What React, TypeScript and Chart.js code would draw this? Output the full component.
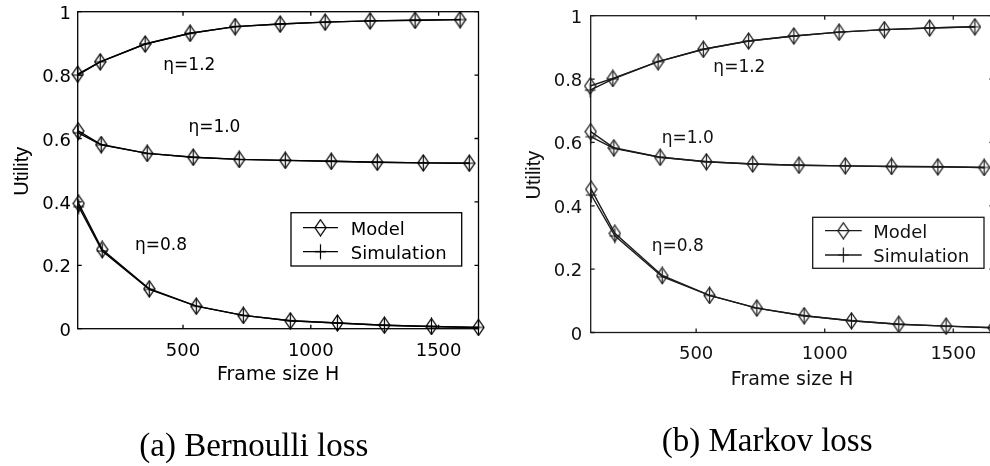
import React, { useEffect, useRef } from 'react';
import { Chart, registerables } from 'chart.js';

Chart.register(...registerables);

// ---------- data ----------
const H12 = [88, 176, 352, 528, 704, 880, 1056, 1232, 1408, 1584];
const H10 = [90, 180, 360, 540, 720, 900, 1080, 1260, 1440, 1620];
const H08 = [92, 184, 368, 552, 736, 920, 1104, 1288, 1472, 1656];

const bernModel12 = [0.803, 0.842, 0.898, 0.932, 0.953, 0.961, 0.967, 0.971, 0.973, 0.975];
const bernSim12 = [0.8, 0.842, 0.898, 0.932, 0.953, 0.961, 0.967, 0.971, 0.973, 0.975];
const bernModel10 = [0.624, 0.581, 0.553, 0.541, 0.534, 0.531, 0.528, 0.525, 0.523, 0.522];
const bernSim10 = [0.618, 0.58, 0.553, 0.541, 0.534, 0.531, 0.528, 0.525, 0.523, 0.522];
const bernModel08 = [0.395, 0.25, 0.126, 0.071, 0.042, 0.025, 0.018, 0.011, 0.007, 0.004];
const bernSim08 = [0.385, 0.245, 0.124, 0.071, 0.042, 0.025, 0.018, 0.011, 0.007, 0.004];

const markModel12 = [0.778, 0.802, 0.855, 0.894, 0.92, 0.936, 0.948, 0.956, 0.961, 0.965];
const markSim12 = [0.765, 0.8, 0.855, 0.894, 0.92, 0.936, 0.948, 0.956, 0.961, 0.965];
const markModel10 = [0.634, 0.583, 0.553, 0.539, 0.532, 0.528, 0.526, 0.524, 0.523, 0.521];
const markSim10 = [0.618, 0.581, 0.553, 0.539, 0.532, 0.528, 0.526, 0.524, 0.523, 0.521];
const markModel08 = [0.452, 0.313, 0.18, 0.117, 0.077, 0.053, 0.037, 0.026, 0.02, 0.015];
const markSim08 = [0.434, 0.305, 0.176, 0.117, 0.077, 0.053, 0.037, 0.026, 0.02, 0.015];

const xTickValues = [500, 1000, 1500];
const xTickLabels = ['500', '1000', '1500'];
const yTickValues = [0, 0.2, 0.4, 0.6, 0.8, 1];
const yTickLabels = ['0', '0.2', '0.4', '0.6', '0.8', '1'];
const etaLabels = ['η=1.2', 'η=1.0', 'η=0.8'];
const legendLabels = ['Model', 'Simulation'];
const xTitle = 'Frame size H';
const yTitle = 'Utility';
const captions = ['(a) Bernoulli loss', '(b) Markov loss'];

// label anchors in data coordinates (x, y)
const bernEtaPos = [[423, 0.816], [521, 0.621], [312, 0.248]];
const markEtaPos = [[567, 0.823], [366, 0.597], [327, 0.258]];

// ---------- markers ----------
function makeDiamond(color: string) {
  const c = document.createElement('canvas');
  c.width = 13; c.height = 18;
  const g = c.getContext('2d')!;
  g.strokeStyle = color; g.lineWidth = 1.3;
  g.beginPath();
  g.moveTo(6.5, 1); g.lineTo(12, 9); g.lineTo(6.5, 17); g.lineTo(1, 9); g.closePath();
  g.stroke();
  return c;
}
function makePlus(color: string) {
  const c = document.createElement('canvas');
  c.width = 13; c.height = 18;
  const g = c.getContext('2d')!;
  g.strokeStyle = color; g.lineWidth = 1.2;
  g.beginPath();
  g.moveTo(6.5, 1.5); g.lineTo(6.5, 16.5);
  g.moveTo(1, 9); g.lineTo(12, 9);
  g.stroke();
  return c;
}

const decorPlugin = {
  id: 'decor',
  afterDatasetsDraw(chart: any, _args: any, o: any) {
    const { ctx, chartArea: a, scales } = chart;
    const xs = scales.x, ys = scales.y;
    ctx.save();
    // box + inward ticks
    ctx.strokeStyle = o.color; ctx.lineWidth = 1.3;
    ctx.strokeRect(a.left, a.top, a.right - a.left, a.bottom - a.top);
    ctx.beginPath();
    xTickValues.forEach((v) => {
      const px = xs.getPixelForValue(v);
      ctx.moveTo(px, a.bottom); ctx.lineTo(px, a.bottom - 4);
      ctx.moveTo(px, a.top); ctx.lineTo(px, a.top + 4);
    });
    yTickValues.forEach((v) => {
      const py = ys.getPixelForValue(v);
      ctx.moveTo(a.left, py); ctx.lineTo(a.left + 4, py);
      ctx.moveTo(a.right, py); ctx.lineTo(a.right - 4, py);
    });
    ctx.stroke();

    ctx.fillStyle = o.textColor;
    // tick labels
    ctx.font = '18px "DejaVu Sans"';
    ctx.textBaseline = 'alphabetic';
    ctx.textAlign = 'center';
    xTickValues.forEach((v, i) => ctx.fillText(xTickLabels[i], xs.getPixelForValue(v), o.xTickBase));
    ctx.textAlign = 'right';
    yTickValues.forEach((v, i) => ctx.fillText(yTickLabels[i], a.left - o.yTickGap, ys.getPixelForValue(v) + 7));
    // axis titles
    ctx.textAlign = 'center';
    ctx.font = '19px "DejaVu Sans"';
    ctx.fillText(xTitle, (a.left + a.right) / 2, o.xTitleBase);
    ctx.save();
    ctx.translate(o.yTitleBaseX, (a.top + a.bottom) / 2 + 1);
    ctx.rotate(-Math.PI / 2);
    ctx.font = '20px "Liberation Sans"';
    ctx.fillText(yTitle, 0, 0);
    ctx.restore();
    // eta labels
    ctx.font = '17px "DejaVu Sans"';
    ctx.textAlign = 'left';
    o.etaPos.forEach((p: number[], i: number) => ctx.fillText(etaLabels[i], xs.getPixelForValue(p[0]), ys.getPixelForValue(p[1])));
    // legend
    const L = o.legend;
    ctx.fillStyle = '#fff';
    ctx.fillRect(L.x1, L.y1, L.x2 - L.x1, L.y2 - L.y1);
    ctx.strokeStyle = o.color; ctx.lineWidth = 1.3;
    ctx.strokeRect(L.x1, L.y1, L.x2 - L.x1, L.y2 - L.y1);
    ctx.fillStyle = o.textColor;
    ctx.font = '18px "DejaVu Sans"';
    L.rows.forEach((ry: number, i: number) => {
      ctx.beginPath();
      ctx.lineWidth = 1.3;
      ctx.moveTo(L.lx1, ry); ctx.lineTo(L.lx2, ry); ctx.stroke();
      const m = i === 0 ? o.diamond : o.plus;
      ctx.drawImage(m, (L.lx1 + L.lx2) / 2 - m.width / 2, ry - m.height / 2);
      ctx.fillText(legendLabels[i], L.tx, ry + 7);
    });
    // caption
    ctx.fillStyle = '#000';
    ctx.font = '33px "Liberation Serif"';
    ctx.fillText(o.caption, o.capX, o.capBase);
    ctx.restore();
  },
};

function Panel(props: any) {
  const ref = useRef<HTMLCanvasElement>(null);
  useEffect(() => {
    const color = props.color;
    const diamond = makeDiamond(color);
    const plus = makePlus(color);
    const series = [
      [props.H[0], props.model[0], diamond], [props.H[0], props.sim[0], plus],
      [props.H[1], props.model[1], diamond], [props.H[1], props.sim[1], plus],
      [props.H[2], props.model[2], diamond], [props.H[2], props.sim[2], plus],
    ];
    const datasets = series.map(([hs, ys, mk]: any, i: number) => ({
      label: legendLabels[i % 2],
      data: hs.map((h: number, j: number) => ({ x: h, y: ys[j] })),
      borderColor: color,
      borderWidth: 1.4,
      pointStyle: mk,
      pointRadius: 6,
      pointHoverRadius: 6,
      tension: 0,
      fill: false,
      clip: false,
    }));
    const chart = new Chart(ref.current!, {
      type: 'line',
      data: { datasets },
      options: {
        animation: false,
        responsive: false,
        events: [],
        layout: { padding: props.padding },
        scales: {
          x: { type: 'linear', min: props.xmin, max: props.xmax, display: false },
          y: { type: 'linear', min: 0, max: 1, display: false },
        },
        plugins: {
          legend: { display: false },
          tooltip: { enabled: false },
          decor: { ...props.decor, color, diamond, plus },
        } as any,
      },
      plugins: [decorPlugin],
    } as any);
    return () => chart.destroy();
  }, []);
  return (
    <canvas
      ref={ref}
      width={props.width}
      height={466}
      style={{ position: 'absolute', left: props.left, top: 0, width: props.width, height: 466 }}
    />
  );
}

export default function App() {
  return (
    <div style={{ position: 'fixed', left: 0, top: 0, width: 990, height: 466, overflow: 'hidden', background: '#fff' }}>
      <Panel
        left={0}
        width={490}
        color="#000"
        xmin={88}
        xmax={1656}
        H={[H12, H10, H08]}
        model={[bernModel12, bernModel10, bernModel08]}
        sim={[bernSim12, bernSim10, bernSim08]}
        padding={{ left: 77.7, right: 11.5, top: 11.7, bottom: 137.3 }}
        decor={{
          textColor: '#000',
          xTickBase: 355.5,
          yTickGap: 6.7,
          xTitleBase: 380,
          yTitleBaseX: 27.7,
          etaPos: bernEtaPos,
          legend: { x1: 291, y1: 212.7, x2: 461.7, y2: 266, lx1: 303, lx2: 338, tx: 350.7, rows: [227.7, 251.7] },
          caption: captions[0],
          capX: 139.3,
          capBase: 455.7,
        }}
      />
      <Panel
        left={500}
        width={520}
        color="#1a1a1a"
        xmin={90}
        xmax={1656}
        H={[H12, H10, H08]}
        model={[markModel12, markModel10, markModel08]}
        sim={[markSim12, markSim10, markSim08]}
        padding={{ left: 90.7, right: 26.6, top: 15.7, bottom: 133.5 }}
        decor={{
          textColor: '#111',
          xTickBase: 359.3,
          yTickGap: 8.4,
          xTitleBase: 385,
          yTitleBaseX: 39.7,
          etaPos: markEtaPos,
          legend: { x1: 312.7, y1: 217.3, x2: 484, y2: 268.3, lx1: 325, lx2: 361.7, tx: 373.3, rows: [230.7, 255] },
          caption: captions[1],
          capX: 161.7,
          capBase: 450.7,
        }}
      />
    </div>
  );
}
